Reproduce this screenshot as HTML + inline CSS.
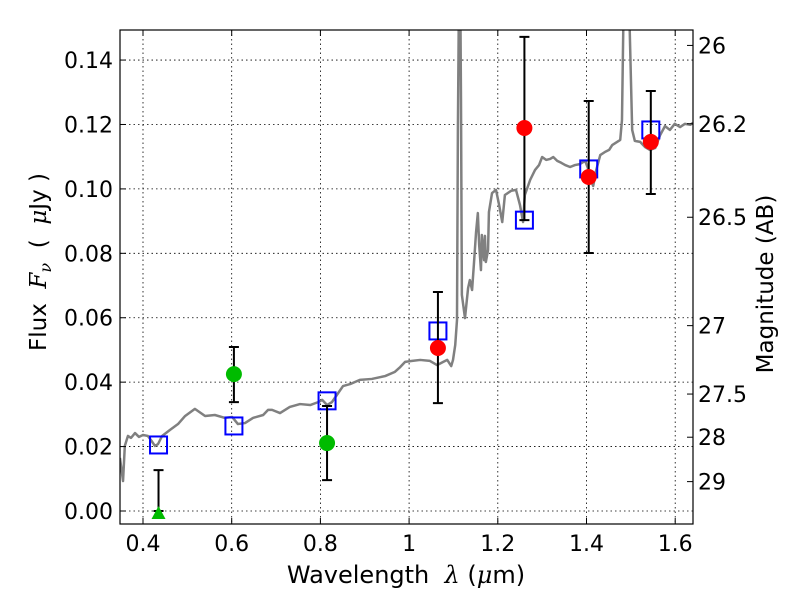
<!DOCTYPE html>
<html><head><meta charset="utf-8"><style>
body{margin:0;background:#fff;}
svg{display:block;font-family:"DejaVu Sans","Liberation Sans",sans-serif;}
</style></head><body>
<svg id="chart" width="800" height="600" viewBox="0 0 800 600">
<rect width="800" height="600" fill="#fff"/>
<defs><clipPath id="clip"><rect x="120" y="30" width="573" height="494"/></clipPath></defs>
<g id="grid"></g>
<g id="spec" clip-path="url(#clip)"></g>
<g id="marks"></g>
<rect x="120" y="30" width="573" height="494" fill="none" stroke="#000" stroke-width="1.2"/>
<g id="axes"></g>
<text x="406" y="583" font-size="24" text-anchor="middle" xml:space="preserve">Wavelength  <tspan font-style="italic" font-family="DejaVu Serif,serif">λ</tspan> (<tspan font-style="italic" font-family="DejaVu Serif,serif">μ</tspan>m)</text>
<text transform="translate(46,262) rotate(-90)" font-size="23" text-anchor="middle" xml:space="preserve">Flux  <tspan font-style="italic" font-family="DejaVu Serif,serif">F<tspan font-size="16" dy="5">ν</tspan></tspan><tspan dy="-5">  (  <tspan font-style="italic" font-family="DejaVu Serif,serif">μ</tspan>Jy )</tspan></text>
<text transform="translate(773,284) rotate(-90)" font-size="23" text-anchor="middle">Magnitude (AB)</text>
</svg>
<script>
const specLam=[0.348,0.355,0.359,0.366,0.373,0.382,0.391,0.400,0.411,0.418,0.427,0.434,0.443,0.461,0.479,0.495,0.517,0.540,0.562,0.585,0.601,0.614,0.630,0.648,0.671,0.682,0.691,0.709,0.731,0.754,0.777,0.795,0.804,0.815,0.826,0.840,0.851,0.867,0.889,0.916,0.946,0.968,0.980,0.991,1.007,1.025,1.047,1.063,1.077,1.086,1.095,1.099,1.104,1.108,1.110,1.113,1.115,1.117,1.119,1.126,1.133,1.137,1.142,1.146,1.151,1.155,1.158,1.162,1.164,1.169,1.171,1.173,1.178,1.180,1.187,1.196,1.203,1.210,1.216,1.230,1.241,1.250,1.257,1.261,1.273,1.284,1.293,1.300,1.309,1.318,1.325,1.334,1.343,1.352,1.363,1.374,1.385,1.397,1.403,1.410,1.415,1.422,1.431,1.442,1.451,1.458,1.476,1.480,1.485,1.494,1.498,1.503,1.509,1.521,1.532,1.543,1.555,1.566,1.577,1.588,1.599,1.611,1.622,1.634,1.640];
const specFlux=[0.0165,0.0093,0.0202,0.0233,0.0227,0.0242,0.0230,0.0236,0.0233,0.0220,0.0202,0.0208,0.0233,0.0252,0.0270,0.0295,0.0317,0.0295,0.0298,0.0289,0.0292,0.0270,0.0273,0.0289,0.0298,0.0314,0.0314,0.0304,0.0323,0.0332,0.0329,0.0338,0.0345,0.0329,0.0338,0.0366,0.0388,0.0394,0.0407,0.0410,0.0419,0.0432,0.0447,0.0463,0.0466,0.0469,0.0466,0.0453,0.0463,0.0469,0.0450,0.0469,0.0515,0.0593,0.1183,0.170,0.170,0.1276,0.0671,0.0599,0.0692,0.0717,0.0686,0.0764,0.0866,0.0925,0.0826,0.0748,0.0857,0.0779,0.0854,0.0773,0.0810,0.0928,0.0987,0.0997,0.0950,0.0897,0.0981,0.0994,0.0997,0.0950,0.0897,0.0981,0.1028,0.1059,0.1074,0.1099,0.1090,0.1093,0.1099,0.1087,0.1081,0.1074,0.1068,0.1074,0.1077,0.1087,0.1065,0.1028,0.1009,0.1059,0.1105,0.1115,0.1121,0.1136,0.1152,0.1214,0.170,0.170,0.1462,0.1183,0.1149,0.1146,0.1130,0.1121,0.1127,0.1167,0.1195,0.1183,0.1202,0.1192,0.1202,0.1199,0.1205];
const modelLam=[0.435,0.605,0.815,1.065,1.26,1.405,1.545];
const modelFlux=[0.0205,0.0264,0.0342,0.0559,0.0903,0.1062,0.1183];
const redLam=[1.065,1.26,1.405,1.545];
const redFlux=[0.0506,0.1189,0.1037,0.1146];
const redHi=[0.068,0.1472,0.1273,0.1304];
const redLo=[0.0335,0.0903,0.0801,0.0984];
const greenLam=[0.605,0.815];
const greenFlux=[0.0425,0.0211];
const greenHi=[0.0509,0.0326];
const greenLo=[0.0338,0.0096];
const triLam=[0.435];
const triFlux=[0.0];
const triHi=[0.0127];
const xTicks=[0.4,0.6,0.8,1.0,1.2,1.4,1.6];
const xTickLabels=["0.4","0.6","0.8","1","1.2","1.4","1.6"];
const yTicks=[0,0.02,0.04,0.06,0.08,0.10,0.12,0.14];
const yTickLabels=["0.00","0.02","0.04","0.06","0.08","0.10","0.12","0.14"];
const magTicks=[26,26.2,26.5,27,27.5,28,29];
const magTickLabels=["26","26.2","26.5","27","27.5","28","29"];

const NS="http://www.w3.org/2000/svg";
const X=l=>143+(l-0.4)*443.5;
const Y=v=>511-v*3221;
function mk(parent,tag,attrs){const e=document.createElementNS(NS,tag);for(const k in attrs)e.setAttribute(k,attrs[k]);document.getElementById(parent).appendChild(e);return e;}

xTicks.forEach((t,i)=>{
  const g=mk('grid','line',{x1:X(t),x2:X(t),y1:30,y2:524,stroke:'#000','stroke-width':0.8,'stroke-dasharray':'1.5,3'});
  
  
  const tk=mk('axes','line',{x1:X(t),x2:X(t),y1:524,y2:518,stroke:'#000'});
  
  
  const tt=mk('axes','line',{x1:X(t),x2:X(t),y1:30,y2:36,stroke:'#000'});
  
  
  const lb=mk('axes','text',{x:X(t),y:551,'font-size':22,'text-anchor':'middle'});
  lb.textContent=xTickLabels[i];
  
  
});
yTicks.forEach((t,i)=>{
  const g=mk('grid','line',{x1:120,x2:693,y1:Y(t),y2:Y(t),stroke:'#000','stroke-width':0.8,'stroke-dasharray':'1.5,3'});
  
  
  const tk=mk('axes','line',{x1:120,x2:126,y1:Y(t),y2:Y(t),stroke:'#000'});
  
  
  const lb=mk('axes','text',{x:113,y:Y(t)+8,'font-size':22,'text-anchor':'end'});
  lb.textContent=yTickLabels[i];
  
  
});
magTicks.forEach((m,i)=>{
  const y=Y(Math.pow(10,(23.9-m)/2.5));
  const tk=mk('axes','line',{x1:687,x2:693,y1:y,y2:y,stroke:'#000'});
  
  
  const lb=mk('axes','text',{x:698,y:y+8,'font-size':22,'text-anchor':'start'});
  lb.textContent=magTickLabels[i];
  
  
});
const sp=mk('spec','polyline',{points:specLam.map((l,i)=>X(l)+','+Y(specFlux[i])).join(' '),fill:'none',stroke:'#808080','stroke-width':2.5,'stroke-linejoin':'round'});



function errbar(l,lo,hi){
  const x=X(l);
  const e=mk('marks','path',{d:`M${x},${Y(lo)}V${Y(hi)}M${x-5},${Y(lo)}h10M${x-5},${Y(hi)}h10`,stroke:'#000','stroke-width':2,fill:'none'});
  
  
}
modelLam.forEach((l,i)=>{
  const s=mk('marks','rect',{x:X(l)-8.5,y:Y(modelFlux[i])-8.5,width:17,height:17,fill:'none',stroke:'#0000ff','stroke-width':2});
  
  
});
redLam.forEach((l,i)=>{
  errbar(l,redLo[i],redHi[i]);
  const c=mk('marks','circle',{cx:X(l),cy:Y(redFlux[i]),r:8,fill:'#ff0000'});
  
  
});
greenLam.forEach((l,i)=>{
  errbar(l,greenLo[i],greenHi[i]);
  const c=mk('marks','circle',{cx:X(l),cy:Y(greenFlux[i]),r:8,fill:'#00bb00'});
  
  
});
triLam.forEach((l,i)=>{
  errbar(l,triFlux[i],triHi[i]);
  const x=X(l),y=Y(triFlux[i]);
  const t=mk('marks','polygon',{points:`${x-7},${y+8} ${x+7},${y+8} ${x},${y-5}`,fill:'#00bb00'});
  
  
});
</script>
</body></html>
